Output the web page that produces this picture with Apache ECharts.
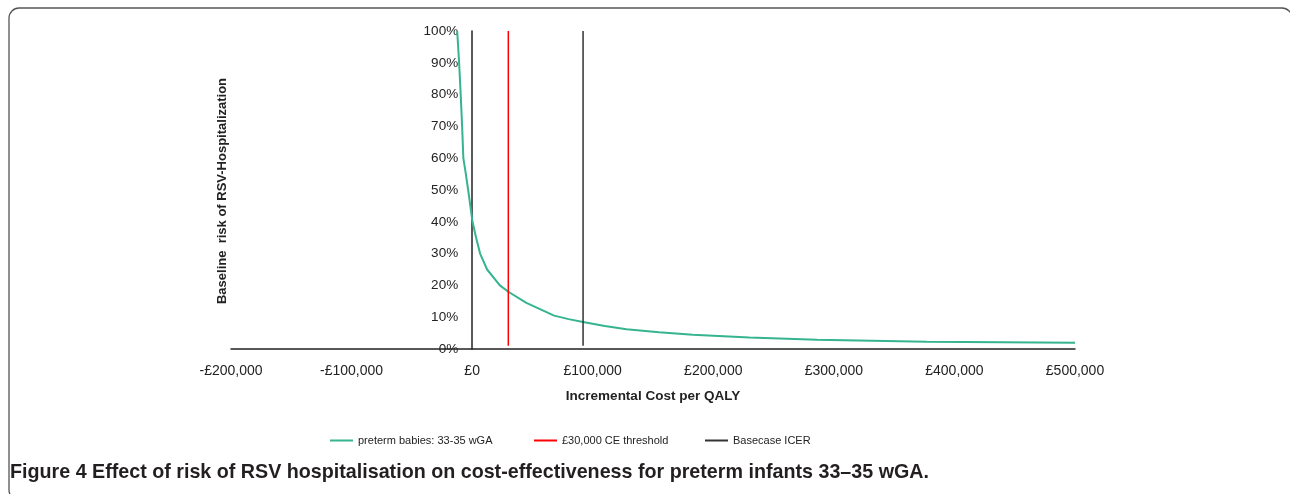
<!DOCTYPE html>
<html>
<head>
<meta charset="utf-8">
<script src="https://cdn.jsdelivr.net/npm/echarts@6/dist/echarts.min.js"></script>
<style>
html,body{margin:0;padding:0;background:#fff;}
#chart{width:1290px;height:494px;}
</style>
</head>
<body>
<div id="chart"></div>
<script>
// Incremental cost per QALY (GBP) for the preterm curve
const curveCost = [-12400, -10800, -9500, -8300, -7300, -5200, -3300, -1500, 300, 3300, 6600, 12400, 23000, 30000, 45000, 68000, 80000, 92000, 110000, 128000, 155000, 183000, 230000, 286000, 377000, 500000];
// Baseline risk of RSV hospitalisation (%)
const curveRisk = [100, 90, 80, 70, 60, 55, 50, 45, 40, 35, 30, 25, 20, 18, 14.5, 10.5, 9.4, 8.5, 7.2, 6.2, 5.3, 4.5, 3.6, 2.9, 2.3, 2.0];
// Vertical reference lines
const thresholdCost = 30000;
const basecaseCost = 92000;
const refLineRisk = [1, 100];
// Axis ticks
const xTicks = [-200000, -100000, 0, 100000, 200000, 300000, 400000, 500000];
const yTicks = [0, 10, 20, 30, 40, 50, 60, 70, 80, 90, 100];
const seriesNames = ['preterm babies: 33-35 wGA', '£30,000 CE threshold', 'Basecase ICER'];
const xTitle = 'Incremental Cost per QALY';
const yTitle = 'Baseline  risk of RSV-Hospitalization';
const captionBold = 'Figure 4';
const captionRest = ' Effect of risk of RSV hospitalisation on cost-effectiveness for preterm infants 33–35 wGA.';

const chart = echarts.init(document.getElementById('chart'));
const fmtMoney = v => (v < 0 ? '-£' : '£') + Math.abs(v).toLocaleString('en-GB');

const gridLeft = 231, gridRight = 215;
const plotW = 1290 - gridLeft - gridRight;
// y axis sits where cost = 0
const yAxisOffset = -plotW * (0 - xTicks[0]) / (xTicks[xTicks.length - 1] - xTicks[0]);

const legendLefts = [330, 534, 705];
const legendBase = {
  top: 435, padding: 0,
  icon: 'rect', itemWidth: 23, itemHeight: 2,
  textStyle: {fontFamily: 'Liberation Sans', fontSize: 11, color: '#222'}
};

const option = {
  backgroundColor: '#fff',
  animation: false,
  grid: {left: gridLeft, right: gridRight, top: 31, bottom: 145, containLabel: false},
  xAxis: {
    type: 'value',
    min: xTicks[0], max: xTicks[xTicks.length - 1], interval: 100000,
    name: xTitle, nameLocation: 'middle', nameGap: 40,
    nameTextStyle: {fontFamily: 'Liberation Sans', fontWeight: 'bold', fontSize: 13.5, color: '#222'},
    axisLine: {show: true, lineStyle: {color: '#222', width: 1.5}},
    axisTick: {show: false},
    splitLine: {show: false},
    axisLabel: {formatter: fmtMoney, fontFamily: 'Liberation Sans', fontSize: 14, color: '#222', margin: 15}
  },
  yAxis: {
    type: 'value', position: 'left', offset: yAxisOffset,
    min: yTicks[0], max: yTicks[yTicks.length - 1], interval: 10,
    axisLine: {show: true, onZero: false, lineStyle: {color: '#222', width: 1.5}},
    axisTick: {show: false},
    splitLine: {show: false},
    axisLabel: {formatter: '{value}%', fontFamily: 'Liberation Sans', fontSize: 13.5, color: '#222', margin: 14}
  },
  legend: seriesNames.map((n, i) => Object.assign({}, legendBase, {left: legendLefts[i], data: [n]})),
  series: [
    {
      name: seriesNames[0], type: 'line', showSymbol: false, symbol: 'none',
      smooth: false,
      lineStyle: {color: '#35b48f', width: 2},
      itemStyle: {color: '#35b48f'},
      data: curveCost.map((c, i) => [c, curveRisk[i]]),
      z: 3
    },
    {
      name: seriesNames[1], type: 'line', showSymbol: false, symbol: 'none',
      lineStyle: {color: '#ff0000', width: 1.5},
      itemStyle: {color: '#ff0000'},
      data: refLineRisk.map(r => [thresholdCost, r])
    },
    {
      name: seriesNames[2], type: 'line', showSymbol: false, symbol: 'none',
      lineStyle: {color: '#333', width: 1.5},
      itemStyle: {color: '#333'},
      data: refLineRisk.map(r => [basecaseCost, r])
    }
  ],
  graphic: [
    {
      type: 'rect', silent: true,
      shape: {x: 9, y: 8, width: 1283, height: 492, r: 10},
      style: {fill: 'none', stroke: '#555', lineWidth: 1.3}
    },
    {
      type: 'text', x: 222, y: 191, rotation: Math.PI / 2,
      style: {text: yTitle, align: 'center', verticalAlign: 'middle', fontFamily: 'Liberation Sans', fontWeight: 'bold', fontSize: 13, fill: '#222'}
    },
    {
      type: 'text', x: 10, y: 473,
      style: {
        text: '{b|' + captionBold + '}{r|' + captionRest + '}',
        verticalAlign: 'middle',
        rich: {
          b: {fontFamily: 'Liberation Sans', fontWeight: 'bold', fontSize: 19.7, fill: '#231f20'},
          r: {fontFamily: 'Liberation Sans', fontWeight: 'bold', fontSize: 19.7, fill: '#231f20'}
        }
      }
    }
  ]
};
chart.setOption(option);
</script>
</body>
</html>
